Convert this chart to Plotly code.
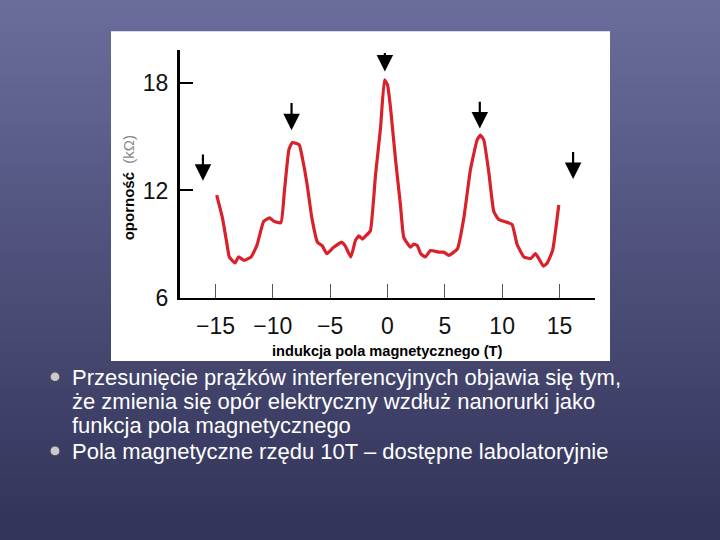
import plotly.graph_objects as go

# ---- data ----
field_T = [-14.9, -14.4, -14.0, -13.8, -13.3, -13.0, -12.5, -11.9, -11.4, -10.8, -10.3, -9.9, -9.3, -9.0,
           -8.6, -8.3, -7.7, -7.4, -7.0, -6.6, -6.1, -5.7, -5.3, -4.7, -4.0, -3.7, -3.2, -2.8, -2.5, -2.2,
           -1.9, -1.5, -1.05, -0.6, -0.26, 0.0, 0.26, 0.7, 1.13, 1.42, 2.0, 2.3, 2.6, 2.9, 3.3, 3.75, 4.5,
           4.9, 5.35, 6.1, 6.66, 7.24, 7.82, 8.1, 8.4, 8.84, 9.27, 9.7, 10.3, 10.87, 11.3, 11.9, 12.5, 12.9,
           13.2, 13.6, 13.9, 14.4, 14.94]
resistance_kohm = [11.74, 10.47, 9.0, 8.29, 7.96, 8.29, 8.1, 8.29, 8.92, 10.28, 10.47, 10.28, 10.2, 11.9,
                   14.28, 14.68, 14.55, 13.73, 12.28, 10.47, 9.1, 8.92, 8.47, 8.83, 9.1, 8.92, 8.29, 9.2, 9.47,
                   9.29, 9.47, 9.74, 12.83, 15.55, 18.18, 17.9, 16.64, 13.73, 11.19, 9.38, 8.83, 9.01, 8.92,
                   8.47, 8.29, 8.65, 8.56, 8.56, 8.38, 8.74, 10.47, 13.19, 14.82, 15.1, 14.82, 13.0, 10.83,
                   10.38, 10.25, 10.1, 9.0, 8.29, 8.2, 8.47, 8.2, 7.78, 7.92, 8.65, 11.19]

arrow_x = [-16.1, -8.37, -0.23, 8.05, 16.19]
arrow_tip = [12.55, 15.37, 18.64, 15.46, 12.64]
arrow_tail = [14.1, 16.97, 19.76, 17.04, 14.24]

x_tickvals = [-15, -10, -5, 0, 5, 10, 15]
x_ticktext = ["\u221215", "\u221210", "\u22125", "0", "5", "10", "15"]
y_tickvals = [6, 12, 18]
y_ticktext = ["6", "12", "18"]

bullet_lines = [
    "Przesunięcie prążków interferencyjnych objawia się tym,",
    "że zmienia się opór elektryczny wzdłuż nanorurki jako",
    "funkcja pola magnetycznego",
    "Pola magnetyczne rzędu 10T – dostępne labolatoryjnie",
]
bullet_line_y_px = [386.5, 411, 435.5, 463]
bullet_marks_y_px = [386, 462]

W, H = 720, 540
px_x = lambda v: v / W
px_y = lambda v: 1 - v / H

fig = go.Figure()
fig.add_trace(go.Scatter(x=field_T, y=resistance_kohm, mode="lines",
                         line=dict(color="#d9212b", width=3.2, shape="spline", smoothing=0.4),
                         hoverinfo="skip", showlegend=False))

shapes = []
# slide background gradient (vertical bands)
top = (0x6a, 0x6c, 0x9c)
bot = (0x33, 0x35, 0x5a)
n = 54
for i in range(n):
    t = i / (n - 1)
    c = tuple(int(round(top[k] + (bot[k] - top[k]) * t)) for k in range(3))
    shapes.append(dict(type="rect", xref="paper", yref="paper", layer="below",
                       x0=-0.01, x1=1.01, y0=1 - (i + 1) / n - 0.01, y1=1 - i / n + 0.003,
                       fillcolor="rgb(%d,%d,%d)" % c, line=dict(width=0)))
# white picture box
shapes.append(dict(type="rect", xref="paper", yref="paper", layer="below",
                   x0=px_x(111), x1=px_x(610), y0=px_y(370), y1=px_y(32),
                   fillcolor="white", line=dict(width=0)))
# bullets
for by in bullet_marks_y_px:
    shapes.append(dict(type="circle", xref="paper", yref="paper", layer="above",
                       x0=px_x(50), x1=px_x(60), y0=px_y(by + 5), y1=px_y(by - 5),
                       fillcolor="#c9c9cf", line=dict(color="#4a4a55", width=1.2)))

annotations = []
for xa, tip, tail in zip(arrow_x, arrow_tip, arrow_tail):
    annotations.append(dict(x=xa, y=tip, ax=xa, ay=tail, xref="x", yref="y",
                            axref="x", ayref="y", text="", showarrow=True,
                            arrowhead=2, arrowsize=1.5, arrowwidth=2.2,
                            arrowcolor="black", standoff=0, startstandoff=0))

annotations.append(dict(x=px_x(128), y=px_y(193), xref="paper", yref="paper",
                        text="<b>oporność</b>  <span style='color:#888'>(kΩ)</span>",
                        textangle=-90, showarrow=False,
                        font=dict(family="Liberation Sans, Arial", size=15, color="black"),
                        xanchor="center", yanchor="middle"))
annotations.append(dict(x=px_x(387), y=px_y(360), xref="paper", yref="paper",
                        text="<b>indukcja pola magnetycznego (T)</b>", showarrow=False,
                        font=dict(family="Liberation Sans, Arial", size=14.6, color="black"),
                        xanchor="center", yanchor="middle"))
for txt, ly in zip(bullet_lines, bullet_line_y_px):
    annotations.append(dict(x=px_x(71), y=px_y(ly), xref="paper", yref="paper",
                            text=txt, showarrow=False, borderpad=0,
                            font=dict(family="Liberation Sans, Arial", size=22, color="white"),
                            xanchor="left", yanchor="middle"))

fig.update_layout(
    width=W, height=H,
    margin=dict(l=0, r=0, t=0, b=0),
    paper_bgcolor="#33355a",
    plot_bgcolor="rgba(0,0,0,0)",
    shapes=shapes,
    annotations=annotations,
    showlegend=False,
    xaxis=dict(domain=[px_x(180), px_x(595)], range=[-18.1, 18.1],
               showgrid=False, zeroline=False,
               showline=True, linecolor="black", linewidth=2,
               ticks="inside", ticklen=14, tickwidth=1.3, tickcolor="#555",
               tickvals=x_tickvals, ticktext=x_ticktext,
               tickfont=dict(family="Liberation Sans, Arial", size=23, color="#111"),
               ticklabelstandoff=6, anchor="y"),
    yaxis=dict(domain=[px_y(305.3), px_y(51.7)], range=[6, 19.82],
               showgrid=False, zeroline=False,
               showline=True, linecolor="black", linewidth=3,
               ticks="inside", ticklen=13, tickwidth=1.5, tickcolor="black",
               tickvals=y_tickvals, ticktext=y_ticktext,
               tickfont=dict(family="Liberation Sans, Arial", size=23, color="#111"),
               ticklabelstandoff=4, anchor="x"),
)

fig.write_html("out.html")
